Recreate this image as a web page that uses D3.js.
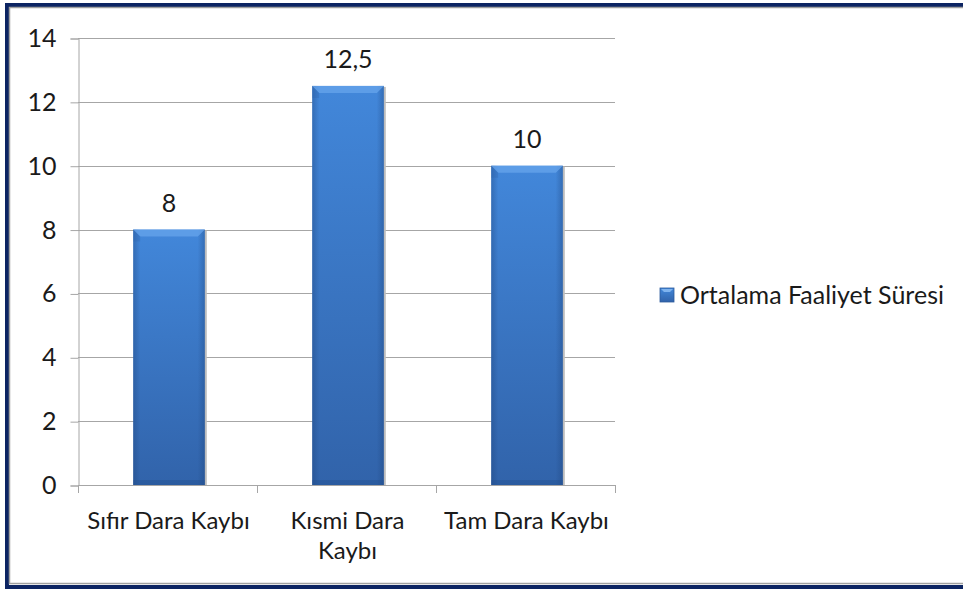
<!DOCTYPE html>
<meta charset="utf-8">
<style>
    body { margin: 0; background: #fff; }
    text { font-family: Lato, "Open Sans", sans-serif; fill: #1a1a1a; }
    .grid line { stroke: #a6a6a6; stroke-width: 1px; }
    .axis path, .axis line { stroke: #a6a6a6; }
</style>
<body>
<script src="https://d3js.org/d3.v7.min.js"></script>
<script>
    // data
    var categories = ["Sıfır Dara Kaybı", "Kısmi Dara Kaybı", "Tam Dara Kaybı"];
    var labelLines = [["Sıfır Dara Kaybı"], ["Kısmi Dara", "Kaybı"], ["Tam Dara Kaybı"]];
    var values = [8, 12.5, 10];
    var yTicks = [0, 2, 4, 6, 8, 10, 12, 14];
    var seriesName = "Ortalama Faaliyet Süresi";

    var width = 963, height = 590;
    var plotLeft = 78, plotRight = 615, plotTop = 38, plotBottom = 485;
    var fontSize = "24px";

    var trFormat = d3.formatLocale({ decimal: ",", thousands: ".", grouping: [3], currency: ["", " TL"] }).format("~g");

    var svg = d3.select("body").append("svg")
        .attr("width", width)
        .attr("height", height);

    var defs = svg.append("defs");
    var vg = defs.append("linearGradient").attr("id", "barV").attr("x1", 0).attr("y1", 0).attr("x2", 0).attr("y2", 1);
    vg.append("stop").attr("offset", "0%").attr("stop-color", "#4287da");
    vg.append("stop").attr("offset", "100%").attr("stop-color", "#3163aa");
    var hg = defs.append("linearGradient").attr("id", "barH").attr("x1", 0).attr("y1", 0).attr("x2", 1).attr("y2", 0);
    hg.append("stop").attr("offset", "0%").attr("stop-color", "#1b3f75").attr("stop-opacity", 0.35);
    hg.append("stop").attr("offset", "10%").attr("stop-color", "#1b3f75").attr("stop-opacity", 0);
    hg.append("stop").attr("offset", "90%").attr("stop-color", "#1b3f75").attr("stop-opacity", 0);
    hg.append("stop").attr("offset", "100%").attr("stop-color", "#1b3f75").attr("stop-opacity", 0.35);

    // frame
    svg.append("rect").attr("x", 7).attr("y", 5).attr("width", width + 10).attr("height", 582)
        .attr("fill", "none").attr("stroke", "#0c2462").attr("stroke-width", 4);
    svg.append("rect").attr("x", 9.5).attr("y", 7.5).attr("width", width + 10).attr("height", 576)
        .attr("fill", "none").attr("stroke", "#a0a0a0").attr("stroke-width", 1.5);

    var x = d3.scaleBand().domain(categories).range([plotLeft, plotRight]).paddingInner(0.6).paddingOuter(0.3);
    var y = d3.scaleLinear().domain([0, 14]).range([plotBottom, plotTop]);

    // gridlines
    svg.append("g").attr("class", "grid")
        .selectAll("line").data(yTicks.slice(1)).join("line")
        .attr("x1", plotLeft).attr("x2", plotRight)
        .attr("y1", function(d) { return Math.round(y(d)) + 0.5; })
        .attr("y2", function(d) { return Math.round(y(d)) + 0.5; });

    // y axis
    var yAxis = svg.append("g").attr("class", "axis")
        .attr("transform", "translate(" + (plotLeft + 0.5) + ",0.5)")
        .call(d3.axisLeft(y).tickValues(yTicks).tickSize(8).tickPadding(14).tickFormat(trFormat));
    yAxis.selectAll("text").style("font-size", "25px").style("font-family", "Lato, sans-serif").attr("fill", "#1a1a1a");

    // x axis, ticks on category boundaries
    var step = x.step();
    var xg = svg.append("g").attr("class", "axis");
    xg.append("line").attr("x1", plotLeft).attr("x2", plotRight).attr("y1", plotBottom + 0.5).attr("y2", plotBottom + 0.5);
    xg.selectAll(".tk").data(d3.range(categories.length + 1)).join("line").attr("class", "tk")
        .attr("x1", function(i) { return Math.round(plotLeft + i * step) + 0.5; })
        .attr("x2", function(i) { return Math.round(plotLeft + i * step) + 0.5; })
        .attr("y1", plotBottom).attr("y2", plotBottom + 8);

    // bars
    var bw = x.bandwidth();
    var bars = svg.append("g").selectAll("g").data(values).join("g")
        .attr("transform", function(d, i) { return "translate(" + (x(categories[i]) + 1.5) + "," + y(d) + ")"; });
    bars.append("rect").attr("x", 2).attr("y", 1).attr("width", bw).attr("height", function(d) { return plotBottom - y(d) - 1; })
        .attr("fill", "#bdbdbd");
    bars.append("rect").attr("width", bw).attr("height", function(d) { return plotBottom - y(d); })
        .attr("fill", "url(#barV)");
    bars.append("rect").attr("width", bw).attr("height", function(d) { return plotBottom - y(d); })
        .attr("fill", "url(#barH)");
    // top bevel
    bars.append("path")
        .attr("d", "M0,0 L" + bw + ",0 L" + (bw - 7) + ",7 L7,7 Z")
        .attr("fill", "#6aa6ec").attr("opacity", 0.7);
    bars.append("path")
        .attr("d", "M0,0 L7,7 L7,12 L0,12 Z").attr("fill", "#2f62ab").attr("opacity", 0.3);
    // bottom shade
    bars.append("rect").attr("y", function(d) { return plotBottom - y(d) - 5; }).attr("width", bw).attr("height", 5)
        .attr("fill", "#1f4c8c").attr("opacity", 0.35);

    // value labels
    bars.append("text")
        .attr("x", bw / 2).attr("y", -18)
        .attr("text-anchor", "middle")
        .style("font-size", "25px")
        .text(function(d) { return trFormat(d); });

    // category labels
    svg.append("g").selectAll("text").data(labelLines).join("text")
        .attr("text-anchor", "middle")
        .attr("x", function(d, i) { return x(categories[i]) + bw / 2 + 1; })
        .attr("y", 529)
        .style("font-size", fontSize)
        .selectAll("tspan").data(function(d) { return d; }).join("tspan")
        .attr("x", function() { return d3.select(this.parentNode).attr("x"); })
        .attr("dy", function(d, i) { return i === 0 ? 0 : 30; })
        .text(function(d) { return d; });

    // legend
    var lg = svg.append("g").attr("transform", "translate(660,288)");
    lg.append("rect").attr("width", 14).attr("height", 14).attr("fill", "url(#barV)").attr("stroke", "#2c5a9c").attr("stroke-width", 0.8);
    lg.append("path").attr("d", "M1,1 L13,1 L10,4 L4,4 Z").attr("fill", "#7fb3ee");
    lg.append("text").attr("x", 20).attr("y", 16).style("font-size", "25px").text(seriesName);
</script>
</body>
